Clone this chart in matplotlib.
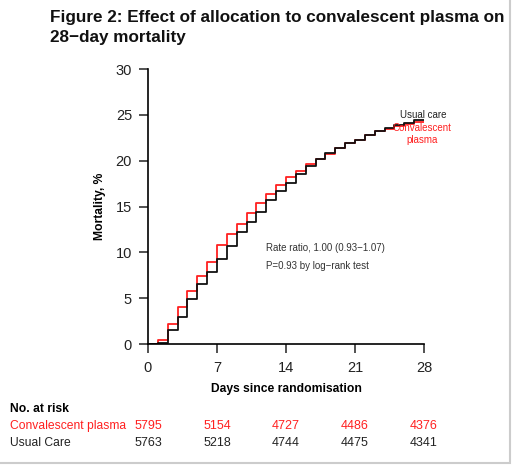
import matplotlib.pyplot as plt
import numpy as np
from matplotlib.transforms import blended_transform_factory
from matplotlib.patches import Rectangle

plt.rcParams['font.family'] = ['Liberation Sans', 'DejaVu Sans']

# Mortalidad acumulada (%) por dia, dias 0..27
dias = np.arange(0, 29)
plasma = [0, 0.4, 2.2, 4.0, 5.8, 7.4, 9.0, 10.8, 12.0, 13.1, 14.3, 15.4, 16.4, 17.3,
          18.2, 18.9, 19.6, 20.2, 20.7, 21.4, 21.9, 22.3, 22.8, 23.2, 23.5, 23.8, 24.0, 24.2]
usual = [0, 0.15, 1.5, 3.0, 4.9, 6.5, 7.9, 9.3, 10.7, 12.2, 13.3, 14.4, 15.7, 16.7,
         17.6, 18.5, 19.4, 20.2, 20.8, 21.4, 21.9, 22.3, 22.8, 23.2, 23.6, 23.9, 24.1, 24.4]

# Numero en riesgo
dias_riesgo = [0, 7, 14, 21, 28]
riesgo_plasma = [5795, 5154, 4727, 4486, 4376]
riesgo_usual = [5763, 5218, 4744, 4475, 4341]

rojo = '#ff2020'

fig = plt.figure(figsize=(5.13, 4.65), dpi=100)
ax = fig.add_axes([148 / 513, 1 - 344 / 465, 276 / 513, 275 / 465])

ax.step(dias, plasma + [plasma[-1]], where='post', color=rojo, lw=1.3)
ax.step(dias, usual + [usual[-1]], where='post', color='#111111', lw=1.3)

ax.set_xlim(0, 28)
ax.set_ylim(0, 30)
ax.set_xticks([0, 7, 14, 21, 28])
ax.set_yticks([0, 5, 10, 15, 20, 25, 30])
ax.spines['top'].set_visible(False)
ax.spines['right'].set_visible(False)
ax.tick_params(labelsize=10.5, length=6.5, width=1.1, colors='#222222')
ax.tick_params(axis='x', pad=6)
ax.tick_params(axis='y', pad=5)
for s in ['left', 'bottom']:
    ax.spines[s].set_linewidth(1.2)
ax.set_xlabel('Days since randomisation', fontweight='bold', fontsize=8.7)
ax.xaxis.set_label_coords(0.5, -(389 - 344) / 275)
ax.xaxis.label.set_va('center')
ax.set_ylabel('Mortality, %', fontweight='bold', fontsize=8.7)
ax.yaxis.set_label_coords(-(148 - 100) / 276, 0.5)
ax.yaxis.label.set_va('center')

ax.text(0.428, (344 - 257) / 275, 'Rate ratio, 1.00 (0.93\u22121.07)\nP=0.93 by log\u2212rank test',
        transform=ax.transAxes, fontsize=7, color='#333333', linespacing=2.0, va='center')
ax.text(30.3, 25.0, 'Usual care', fontsize=7, color='#222222', ha='right', va='center')
ax.text(27.8, 22.9, 'Convalescent\nplasma', fontsize=7, color=rojo, ha='center', va='center',
        linespacing=1.2)

fig.text(50 / 513, 1 - 27.5 / 465, 'Figure 2: Effect of allocation to convalescent plasma on\n28\u2212day mortality',
         fontsize=12.3, fontweight='bold', va='center', ha='left', linespacing=1.4, color='#111111')

# Tabla de numero en riesgo
tr = blended_transform_factory(ax.transData, fig.transFigure)
fig.text(10 / 513, 1 - 409 / 465, 'No. at risk', fontsize=8.7, fontweight='bold', va='center')
fig.text(10 / 513, 1 - 426 / 465, 'Convalescent plasma', fontsize=8.7, color=rojo, va='center')
fig.text(10 / 513, 1 - 443 / 465, 'Usual Care', fontsize=8.7, color='#222222', va='center')
for d, rp, ru in zip(dias_riesgo, riesgo_plasma, riesgo_usual):
    fig.text(d, 1 - 426 / 465, str(rp), transform=tr, fontsize=9, color=rojo, ha='center', va='center')
    fig.text(d, 1 - 443 / 465, str(ru), transform=tr, fontsize=9, color='#222222', ha='center', va='center')

# marco gris de la captura
fig.patches.append(Rectangle((-0.01, 2 / 465), 1 - 3 / 513 + 0.01, 1.02, transform=fig.transFigure,
                             fill=False, edgecolor='#cccccc', lw=1.5))

fig.savefig('out.png', dpi=100)
